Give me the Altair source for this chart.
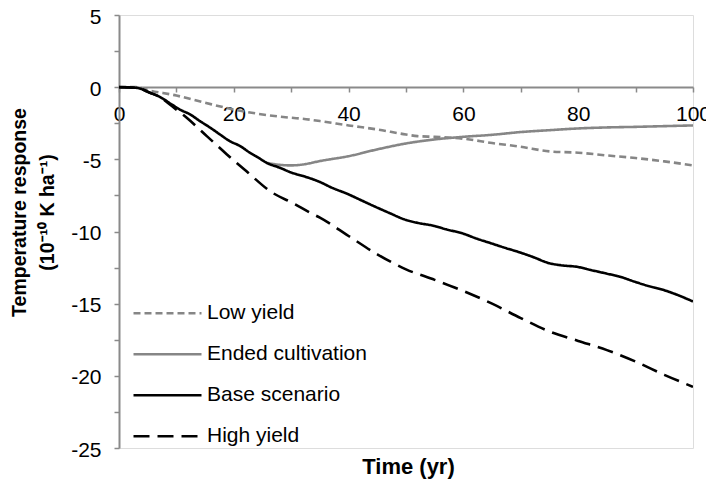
import altair as alt
import pandas as pd

series_names = ["Low yield", "Ended cultivation", "Base scenario", "High yield"]

low_t = [0, 3, 5, 10, 15, 20, 25, 30, 32, 35, 40, 45, 50, 52, 55, 60, 65, 70, 75, 80, 85, 90, 95, 100]
low_v = [0, 0, -0.2, -0.58, -1.08, -1.55, -1.89, -2.12, -2.19, -2.35, -2.65, -2.93, -3.28, -3.39, -3.44,
         -3.57, -3.87, -4.13, -4.45, -4.54, -4.73, -4.91, -5.14, -5.42]

ended_t = [25.7, 28, 30, 32, 35, 40, 45, 50, 55, 60, 65, 70, 75, 80, 85, 90, 95, 100]
ended_v = [-5.24, -5.38, -5.42, -5.36, -5.12, -4.78, -4.31, -3.9, -3.62, -3.44, -3.3, -3.11, -2.98,
           -2.86, -2.79, -2.75, -2.7, -2.65]

base_t = [0, 3.1, 5.4, 7.1, 9.2, 10.6, 12.4, 14.1, 15.9, 17.6, 19.3, 21.1, 22.8, 24.3, 25.7, 28, 30.1,
          32.1, 35, 37, 40, 42, 45, 47, 50, 52, 55, 57, 60, 62, 65, 67, 70, 72, 75, 77, 80, 82, 85, 87,
          90, 92, 95, 97, 100]
base_v = [0, -0.05, -0.39, -0.67, -1.2, -1.55, -1.89, -2.35, -2.81, -3.28, -3.74, -4.08, -4.54, -4.89,
          -5.24, -5.58, -5.93, -6.16, -6.57, -6.95, -7.43, -7.8, -8.35, -8.7, -9.2, -9.4, -9.62, -9.85,
          -10.15, -10.45, -10.84, -11.1, -11.47, -11.75, -12.2, -12.34, -12.46, -12.65, -12.92, -13.1,
          -13.5, -13.75, -14.07, -14.35, -14.85]

high_t = [0, 3.1, 5.4, 7.1, 9.2, 11.8, 15.3, 18.8, 22.5, 26.3, 30.7, 33.3, 35, 40, 45, 50, 55, 60, 65,
          70, 75, 80, 85, 90, 95, 100]
high_v = [0, -0.05, -0.39, -0.67, -1.31, -2.12, -3.39, -4.66, -5.93, -7.2, -8.12, -8.7, -9.04, -10.31,
          -11.58, -12.62, -13.35, -14.12, -15.0, -16.0, -16.93, -17.58, -18.22, -19.01, -19.93, -20.76]

x_ticks = list(range(0, 101, 10))
y_ticks = [-25, -22.5, -20, -17.5, -15, -12.5, -10, -7.5, -5, -2.5, 0, 2.5, 5]

rows = []
for name, ts, vs in [("Low yield", low_t, low_v), ("Ended cultivation", ended_t, ended_v),
                     ("Base scenario", base_t, base_v), ("High yield", high_t, high_v)]:
    for t, v in zip(ts, vs):
        rows.append({"series": name, "t": t, "v": v})
df = pd.DataFrame(rows)

gray = "#868686"
axis_gray = "#8a8a8a"

chart = alt.Chart(df).mark_line(strokeWidth=2.6, interpolate="monotone", clip=True).encode(
    x=alt.X("t:Q",
            scale=alt.Scale(domain=[0, 100], nice=False, zero=False),
            axis=alt.Axis(values=x_ticks,
                          labelExpr="datum.value % 20 == 0 ? datum.label : ''",
                          offset=-361, grid=False,
                          domainColor=axis_gray, domainWidth=2,
                          tickColor=axis_gray, tickWidth=1.5, tickSize=5,
                          labelFontSize=21, labelPadding=11, labelColor="#000000",
                          labelFlush=False, labelOverlap=False,
                          title="Time (yr)", titleFontSize=22, titleFontWeight="bold",
                          titleColor="#000000",
                          titleX=289, titleY=386, titleAlign="center",
                          titleBaseline="alphabetic")),
    y=alt.Y("v:Q",
            scale=alt.Scale(domain=[-25, 5], nice=False, zero=False),
            axis=alt.Axis(values=y_ticks,
                          labelExpr="datum.value % 5 == 0 ? '' + datum.value : ''",
                          grid=False,
                          domainColor=axis_gray, domainWidth=2,
                          tickColor=axis_gray, tickWidth=1.5, tickSize=5,
                          labelFontSize=21, labelPadding=13, labelOffset=2,
                          labelColor="#000000", labelOverlap=False, labelFlush=False,
                          title=["Temperature response", "(10⁻¹⁰ K ha⁻¹)"],
                          titleFontSize=19.5, titleFontWeight="bold", titleColor="#000000",
                          titleAngle=-90, titleX=-100, titleY=197, titleAlign="center",
                          titleBaseline="middle", titleLineHeight=28)),
    color=alt.Color("series:N",
                    scale=alt.Scale(domain=series_names,
                                    range=[gray, gray, "#000000", "#000000"]),
                    legend=alt.Legend(title=None)),
    strokeDash=alt.StrokeDash("series:N",
                              scale=alt.Scale(domain=series_names,
                                              range=[[7, 4], [1, 0], [1, 0], [16, 8]]),
                              legend=alt.Legend(title=None)),
    detail="series:N",
).properties(
    width=574,
    height=433,
    autosize=alt.AutoSizeParams(type="none"),
    padding={"left": 111, "top": 7, "right": 13, "bottom": 34},
).configure_view(
    stroke=None
).configure(
    font="Liberation Sans"
).configure_legend(
    orient="none", legendX=13, legendY=278,
    symbolType="stroke", symbolSize=4624, symbolStrokeWidth=2.5,
    clipHeight=40.5, rowPadding=0, labelFontSize=21, labelOffset=4, labelColor="#000000",
    padding=0, labelLimit=300
)

chart.save("out.html", embed_options={"renderer": "svg", "actions": False})
